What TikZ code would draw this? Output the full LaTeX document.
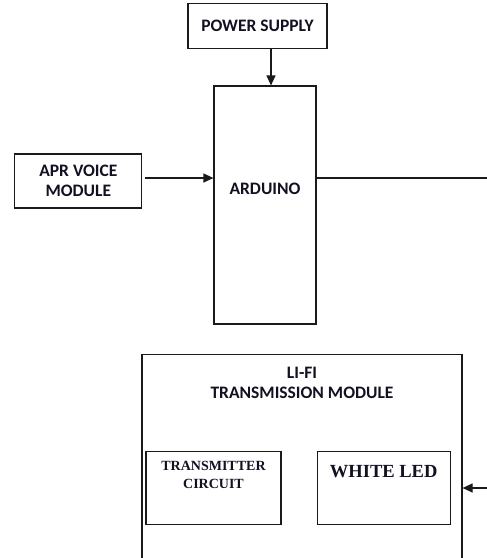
\documentclass[tikz,border=0pt]{standalone}
\usepackage{fontspec}
\setmainfont{Carlito}
\newfontfamily\serifbf{Liberation Serif}
\usetikzlibrary{arrows.meta, positioning}
\definecolor{lineDark}{HTML}{1A1A1A}
\definecolor{textDark}{HTML}{111122}
\tikzset{
  arrowK/.style={-{Triangle[length=10pt,width=9pt]}, lineDark, line width=1.2pt},
  lineK/.style={lineDark, line width=1.2pt},
  boxA/.style={rectangle, draw=lineDark, line width=1.2pt, fill=white,
               align=center, text=textDark, inner sep=0pt,
               font=\fontsize{17.5}{20}\selectfont\bfseries},
  boxS/.style={rectangle, draw=lineDark, line width=1.2pt, fill=white,
               align=center, text=textDark, inner sep=0pt},
  txtA/.style={inner sep=0pt, align=center, text=textDark,
               font=\fontsize{17.5}{20}\selectfont\bfseries},
}

\begin{document}
\begin{tikzpicture}
    \useasboundingbox (0,0) rectangle (487pt,-558pt);
    \node[boxA, minimum width=102pt, minimum height=238pt,
          label={[txtA, yshift=16pt]center:ARDUINO}] (ard) at (265pt,-205pt) {};
    \node[boxA, minimum width=139pt, minimum height=45pt, above=36pt of ard, xshift=-7.5pt] (ps) {POWER SUPPLY};
    \node[boxA, minimum width=127pt, minimum height=54pt, left=71pt of ard, yshift=24pt] (apr) {APR VOICE\\MODULE};
    \node[boxA, minimum width=320pt, minimum height=205pt, below=29pt of ard, xshift=37pt,
          label={[txtA, anchor=north, yshift=-13pt]north:LI-FI\\TRANSMISSION MODULE}] (lifi) {};
    \node[boxS, minimum width=135pt, minimum height=73pt, above right=35pt and 4pt of lifi.south west,
          label={[txtA, anchor=north, yshift=-10pt, font=\serifbf\fontsize{14}{18}\selectfont\bfseries]north:TRANSMITTER\\CIRCUIT}] (tx) {};
    \node[boxS, minimum width=133pt, minimum height=73pt, right=35pt of tx,
          label={[txtA, anchor=north, yshift=-15pt, font=\serifbf\fontsize{18.5}{20}\selectfont\bfseries]north:WHITE LED}] (led) {};
    \coordinate (outR) at (487pt,-178pt);
    \coordinate (inR) at (487pt,-488pt);
    \draw[arrowK] ([xshift=6pt]ard.north |- ps.south) -- ([xshift=6pt]ard.north);
    \draw[arrowK] ([xshift=3pt,yshift=3pt]apr.east) -- ([yshift=3pt]apr.east -| ard.west);
    \draw[lineK] (outR -| ard.east) -- (outR);
    \draw[arrowK] (inR) -- (inR -| lifi.east);
\end{tikzpicture}
\end{document}
